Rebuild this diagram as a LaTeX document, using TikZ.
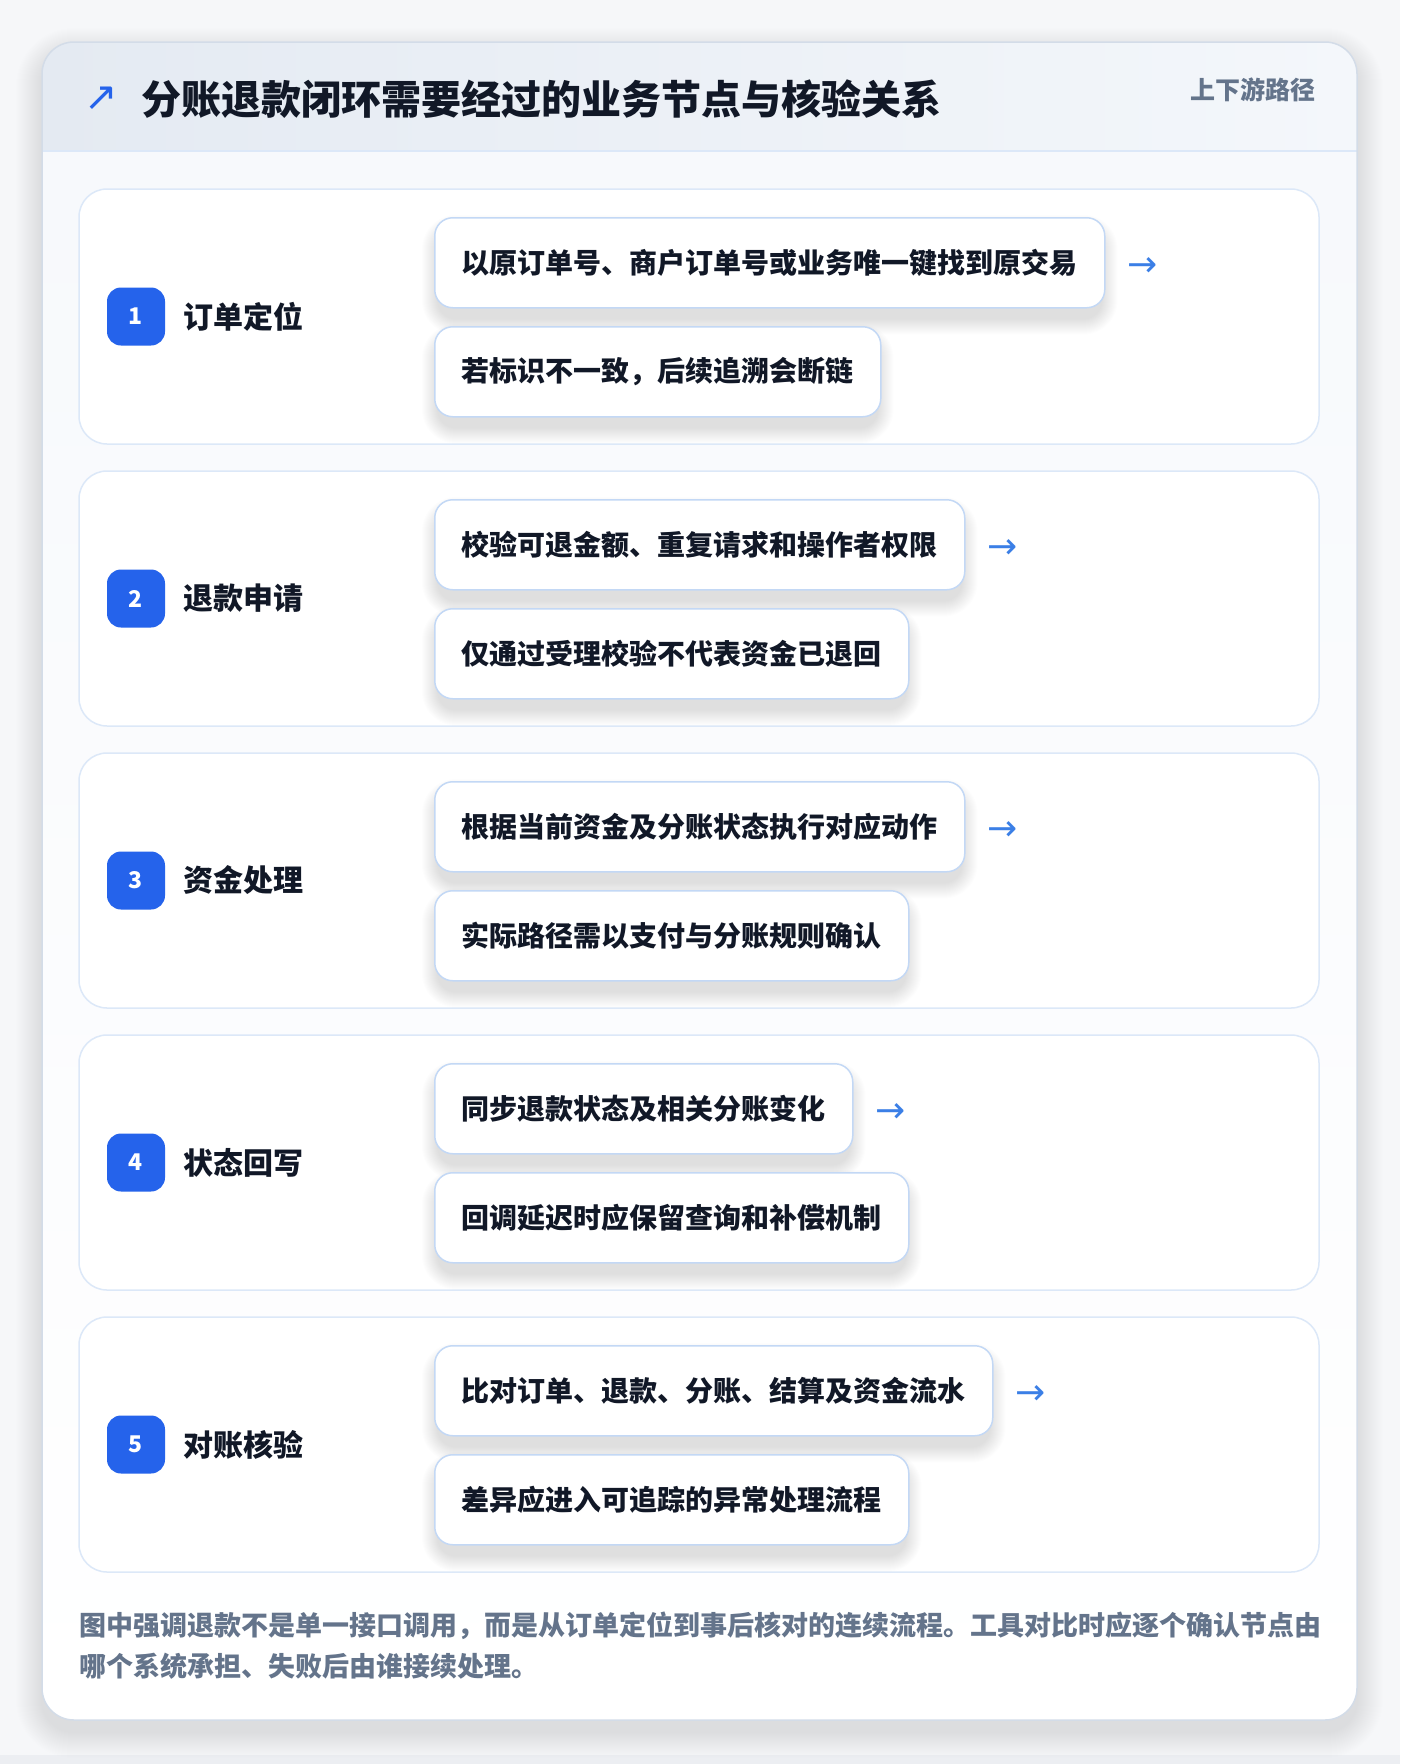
\documentclass[tikz,border=0pt]{standalone}
\usepackage{fontspec}
\setmainfont{Noto Sans CJK SC}
\newfontfamily\symfont{DejaVu Sans}
\usetikzlibrary{calc}
\definecolor{pagebg}{HTML}{F6F7F9}
\definecolor{bodybg}{HTML}{F7F9FC}
\definecolor{hdrL}{HTML}{E4EAF2}
\definecolor{hdrR}{HTML}{F4F7FB}
\definecolor{cardline}{HTML}{D3DCE8}
\definecolor{stepline}{HTML}{DCE8F8}
\definecolor{boxline}{HTML}{C3D8F5}
\definecolor{badgeblue}{HTML}{2563EB}
\definecolor{ink}{HTML}{111827}
\definecolor{muted}{HTML}{64748B}
\definecolor{arrowblue}{HTML}{3B7FE6}
\definecolor{bottomband}{HTML}{ECEEF2}
\pgfdeclarelayer{l0}\pgfdeclarelayer{l1}\pgfdeclarelayer{l2}
\pgfsetlayers{l0,l1,l2,main}
\tikzset{
  stepcard/.style={draw=stepline, line width=1.5pt, fill=white, rounded corners=28pt},
  itembox/.style={draw=boxline, line width=1.5pt, fill=white, rounded corners=18pt,
    minimum height=90pt, inner xsep=27pt, inner ysep=0pt, anchor=north west,
    font=\fontsize{28}{34}\selectfont\bfseries, text=ink},
  badgebox/.style={fill=badgeblue, rounded corners=14pt, minimum width=58pt, minimum height=58pt,
    inner sep=0pt, text=white, font=\fontsize{23}{26}\selectfont\bfseries},
  steplabel/.style={anchor=west, inner sep=0pt, text=ink, font=\fontsize{30}{36}\selectfont\bfseries},
  arrowtxt/.style={anchor=west, inner sep=0pt, text=arrowblue, font=\symfont\fontsize{36}{38}\selectfont},
  foottxt/.style={anchor=base west, inner sep=0pt, text=muted, font=\fontsize{27}{32}\selectfont\bfseries}
}
\newcommand{\boxshadow}[1]{%
  \begin{pgfonlayer}{l2}
  \foreach \k in {1,...,16} {
    \pgfmathsetmacro\rr{18+\k}
    \fill[black, opacity=0.006, rounded corners=\rr pt]
      ([xshift=-\k pt+4pt, yshift=\k pt-14pt]#1.north west) rectangle ([xshift=\k pt-4pt, yshift=-\k pt-10pt]#1.south east);
  }
  \end{pgfonlayer}}
\begin{document}
\begin{tikzpicture}[x=1pt,y=-1pt]
\useasboundingbox (0,0) rectangle (1400,1764);
\begin{pgfonlayer}{l0}
  \fill[pagebg] (0,0) rectangle (1400,1764);
  \fill[bottomband] (0,1755) rectangle (1400,1764);
  \foreach \k in {1,...,26} {
    \pgfmathsetmacro\rr{32+\k}
    \fill[black, opacity=0.0045, rounded corners=\rr pt] (42-\k,42-\k+12) rectangle (1357+\k,1720+\k+12);
  }
  \begin{scope}
    \clip[rounded corners=32pt] (42,42) rectangle (1357,1720);
    \shade[left color=hdrL, right color=hdrR] (42,42) rectangle (1357,151);
    \shade[top color=bodybg, bottom color=white] (42,151) rectangle (1357,1720);
  \end{scope}
  \draw[stepline, line width=2pt] (42,151) -- (1357,151);
  \draw[cardline, line width=1.5pt, rounded corners=32pt] (42,42) rectangle (1357,1720);
\end{pgfonlayer}

\node[anchor=center, inner sep=0pt, text=badgeblue, font=\symfont\fontsize{40}{42}\selectfont] (titlearrow) at (101,99) {↗};
\node[anchor=west, inner sep=0pt, text=ink, font=\fontsize{40}{48}\selectfont\bfseries] (title) at (141,99) {分账退款闭环需要经过的业务节点与核验关系};
\node[anchor=east, inner sep=0pt, text=muted, font=\fontsize{25}{30}\selectfont\bfseries] (tag) at (1316,90) {上下游路径};

\foreach \i/\lab/\ta/\tb in {
  1/订单定位/以原订单号、商户订单号或业务唯一键找到原交易/若标识不一致，后续追溯会断链,
  2/退款申请/校验可退金额、重复请求和操作者权限/仅通过受理校验不代表资金已退回,
  3/资金处理/根据当前资金及分账状态执行对应动作/实际路径需以支付与分账规则确认,
  4/状态回写/同步退款状态及相关分账变化/回调延迟时应保留查询和补偿机制,
  5/对账核验/比对订单、退款、分账、结算及资金流水/差异应进入可追踪的异常处理流程} {
  \pgfmathsetmacro\ty{189+282*(\i-1)}
  \begin{pgfonlayer}{l1}
    \draw[stepcard] (79,\ty) rectangle (1319,\ty+255);
  \end{pgfonlayer}
  \node[badgebox] (badge\i) at (136,\ty+127.5) {\i};
  \node[steplabel] (lab\i) at (183,\ty+127.5) {\lab};
  \node[itembox] (boxa\i) at (434,\ty+28) {\ta};
  \node[itembox] (boxb\i) at (434,\ty+137) {\tb};
  \boxshadow{boxa\i}
  \boxshadow{boxb\i}
  \node[arrowtxt] (arr\i) at ([xshift=22pt, yshift=-4pt]boxa\i.east) {→};
}

\node[foottxt] (foot1) at (79,1635) {图中强调退款不是单一接口调用，而是从订单定位到事后核对的连续流程。工具对比时应逐个确认节点由};
\node[foottxt] (foot2) at (79,1676) {哪个系统承担、失败后由谁接续处理。};
\end{tikzpicture}
\end{document}
